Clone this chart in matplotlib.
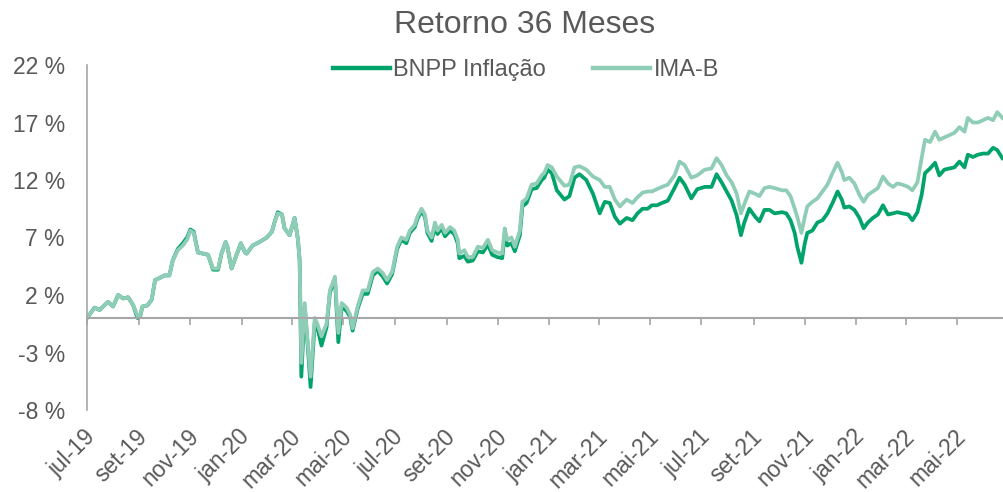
import matplotlib
matplotlib.use("Agg")
import matplotlib.pyplot as plt
import matplotlib.transforms as mtransforms
import pandas as pd

plt.rcParams['font.family'] = ['Liberation Sans', 'DejaVu Sans']

# values (cumulative return, %)
dates = [
    "2019-07-01", "2019-07-10", "2019-07-16", "2019-07-26", "2019-08-01", "2019-08-07",
    "2019-08-13", "2019-08-19", "2019-08-25", "2019-08-30", "2019-09-02", "2019-09-05",
    "2019-09-11", "2019-09-16", "2019-09-20", "2019-09-26", "2019-10-01", "2019-10-07",
    "2019-10-11", "2019-10-17", "2019-10-23", "2019-10-28", "2019-11-01", "2019-11-05",
    "2019-11-10", "2019-11-16", "2019-11-22", "2019-11-28", "2019-12-04", "2019-12-08",
    "2019-12-13", "2019-12-15", "2019-12-20", "2019-12-26", "2019-12-31", "2020-01-05",
    "2020-01-07", "2020-01-14", "2020-01-22", "2020-01-31", "2020-02-06", "2020-02-09",
    "2020-02-13", "2020-02-18", "2020-02-21", "2020-02-27", "2020-03-04", "2020-03-08",
    "2020-03-10", "2020-03-12", "2020-03-16", "2020-03-20", "2020-03-23", "2020-03-28",
    "2020-03-31", "2020-04-05", "2020-04-11", "2020-04-15", "2020-04-21", "2020-04-25",
    "2020-04-29", "2020-05-05", "2020-05-09", "2020-05-12", "2020-05-18", "2020-05-24",
    "2020-05-30", "2020-06-05", "2020-06-11", "2020-06-17", "2020-06-22", "2020-06-28",
    "2020-07-04", "2020-07-09", "2020-07-15", "2020-07-19", "2020-07-25", "2020-07-28",
    "2020-08-02", "2020-08-06", "2020-08-09", "2020-08-14", "2020-08-18", "2020-08-21",
    "2020-08-26", "2020-08-30", "2020-09-05", "2020-09-10", "2020-09-14", "2020-09-16",
    "2020-09-22", "2020-09-26", "2020-10-02", "2020-10-08", "2020-10-14", "2020-10-20",
    "2020-10-25", "2020-10-31", "2020-11-06", "2020-11-09", "2020-11-12", "2020-11-17",
    "2020-11-21", "2020-11-27", "2020-11-30", "2020-12-05", "2020-12-11", "2020-12-17",
    "2020-12-23", "2020-12-26", "2020-12-30", "2021-01-04", "2021-01-10", "2021-01-19",
    "2021-01-25", "2021-01-31", "2021-02-06", "2021-02-14", "2021-02-22", "2021-03-02",
    "2021-03-08", "2021-03-14", "2021-03-20", "2021-03-26", "2021-04-03", "2021-04-10",
    "2021-04-16", "2021-04-22", "2021-04-28", "2021-05-03", "2021-05-09", "2021-05-15",
    "2021-05-22", "2021-05-30", "2021-06-05", "2021-06-11", "2021-06-19", "2021-06-26",
    "2021-07-05", "2021-07-13", "2021-07-19", "2021-07-25", "2021-07-31", "2021-08-06",
    "2021-08-12", "2021-08-17", "2021-08-21", "2021-08-27", "2021-09-03", "2021-09-08",
    "2021-09-14", "2021-09-20", "2021-09-26", "2021-10-05", "2021-10-10", "2021-10-15",
    "2021-10-20", "2021-10-23", "2021-10-28", "2021-11-01", "2021-11-04", "2021-11-10",
    "2021-11-16", "2021-11-22", "2021-11-28", "2021-12-04", "2021-12-10", "2021-12-15",
    "2021-12-18", "2021-12-24", "2021-12-30", "2022-01-05", "2022-01-10", "2022-01-15",
    "2022-01-21", "2022-01-27", "2022-02-02", "2022-02-08", "2022-02-14", "2022-02-19",
    "2022-02-25", "2022-03-04", "2022-03-09", "2022-03-15", "2022-03-20", "2022-03-24",
    "2022-03-30", "2022-04-05", "2022-04-10", "2022-04-16", "2022-04-22", "2022-04-28",
    "2022-05-04", "2022-05-10", "2022-05-14", "2022-05-20", "2022-05-26", "2022-06-01",
    "2022-06-07", "2022-06-13", "2022-06-18", "2022-06-24",
]

ima_b = [
    0.0, 0.9, 0.7, 1.4, 1.0, 2.0, 1.7, 1.8, 1.1, 0.2, 0.2, 1.0,
    1.1, 1.6, 3.3, 3.5, 3.7, 3.7, 5.0, 5.9, 6.3, 6.8, 7.6, 7.4,
    5.7, 5.6, 5.5, 4.3, 4.3, 5.6, 6.6, 6.2, 4.3, 5.5, 6.5, 5.7,
    5.6, 6.3, 6.6, 7.0, 7.5, 8.3, 9.1, 9.0, 7.8, 7.2, 8.7, 6.8,
    5.0, -3.9, 1.3, -2.5, -5.1, 0.0, -0.5, -1.6, -0.5, 2.4, 3.6, -1.3,
    1.3, 0.9, 0.3, -0.9, 1.0, 2.4, 2.4, 4.0, 4.3, 3.9, 3.3, 4.0,
    6.2, 7.0, 6.8, 7.6, 8.1, 8.8, 9.5, 9.0, 7.6, 7.0, 8.3, 7.6,
    8.1, 7.4, 7.9, 7.6, 6.8, 5.6, 5.9, 5.3, 5.3, 6.2, 6.1, 6.8,
    5.9, 5.7, 5.6, 7.8, 6.8, 7.0, 6.2, 7.6, 10.1, 10.4, 11.6, 11.7,
    12.4, 12.6, 13.3, 13.1, 12.3, 11.5, 11.6, 13.1, 13.2, 12.9, 12.3, 12.0,
    11.4, 11.4, 10.3, 9.7, 10.3, 10.0, 10.5, 10.9, 11.0, 11.0, 11.2, 11.4,
    11.6, 12.4, 13.6, 13.3, 12.2, 12.4, 12.9, 13.0, 13.9, 13.3, 12.4, 11.8,
    10.8, 9.1, 9.9, 11.0, 10.8, 10.6, 11.3, 11.4, 11.3, 11.1, 11.1, 10.6,
    9.5, 8.8, 7.4, 8.8, 9.7, 10.1, 10.4, 11.0, 11.6, 12.6, 13.5, 12.7,
    12.0, 12.2, 11.7, 10.7, 10.1, 10.7, 11.0, 11.3, 12.3, 11.7, 11.4, 11.7,
    11.6, 11.4, 11.1, 11.8, 13.9, 15.5, 15.3, 16.2, 15.5, 15.7, 15.9, 16.1,
    16.6, 16.2, 17.4, 17.0, 17.0, 17.2, 17.4, 17.2, 17.9, 17.4,
]

bnpp = [
    0.0, 0.9, 0.7, 1.4, 1.0, 2.0, 1.7, 1.8, 1.1, 0.0, 0.1, 1.0,
    1.1, 1.6, 3.3, 3.5, 3.7, 3.7, 5.0, 6.0, 6.5, 7.0, 7.7, 7.5,
    5.7, 5.6, 5.5, 4.2, 4.2, 5.6, 6.6, 6.2, 4.3, 5.5, 6.5, 5.7,
    5.6, 6.3, 6.6, 7.0, 7.5, 8.3, 9.2, 9.0, 7.8, 7.2, 8.7, 6.8,
    5.0, -5.1, 1.0, -2.8, -6.0, -0.4, -0.8, -2.4, -0.8, 2.2, 3.4, -2.1,
    1.0, 0.6, 0.1, -1.1, 0.8, 2.1, 2.1, 3.7, 4.1, 3.6, 3.0, 3.8,
    6.0, 6.8, 6.5, 7.4, 7.9, 8.6, 9.3, 8.8, 7.4, 6.7, 8.0, 7.3,
    7.8, 7.1, 7.6, 7.3, 6.5, 5.2, 5.4, 4.9, 5.0, 5.8, 5.7, 6.4,
    5.5, 5.3, 5.2, 7.3, 6.3, 6.5, 5.8, 7.2, 9.7, 10.0, 11.2, 11.3,
    12.0, 12.2, 12.9, 12.6, 11.1, 10.3, 10.6, 12.2, 12.5, 12.0, 10.8, 9.1,
    10.1, 10.0, 8.8, 8.2, 8.7, 8.5, 9.1, 9.5, 9.5, 9.8, 9.8, 10.0,
    10.2, 11.3, 12.2, 11.6, 10.4, 11.2, 11.4, 11.4, 12.5, 11.8, 11.0, 10.2,
    8.9, 7.2, 8.3, 9.5, 8.8, 8.4, 9.4, 9.4, 9.1, 9.2, 9.1, 8.5,
    7.4, 6.2, 4.8, 6.5, 7.4, 7.6, 8.3, 8.5, 9.1, 10.0, 11.0, 10.3,
    9.6, 9.7, 9.4, 8.7, 7.8, 8.3, 8.7, 9.0, 9.8, 9.0, 9.1, 9.2,
    9.1, 9.0, 8.5, 9.2, 10.7, 12.6, 13.0, 13.5, 12.4, 12.9, 13.0, 13.1,
    13.6, 13.1, 14.2, 14.0, 14.2, 14.3, 14.3, 14.8, 14.6, 13.9,
]

tick_dates = ["2019-07-01", "2019-09-01", "2019-11-01", "2020-01-01", "2020-03-01",
              "2020-05-01", "2020-07-01", "2020-09-01", "2020-11-01", "2021-01-01",
              "2021-03-01", "2021-05-01", "2021-07-01", "2021-09-01", "2021-11-01",
              "2022-01-01", "2022-03-01", "2022-05-01"]
tick_labels = ["jul-19", "set-19", "nov-19", "jan-20", "mar-20", "mai-20", "jul-20",
               "set-20", "nov-20", "jan-21", "mar-21", "mai-21", "jul-21", "set-21",
               "nov-21", "jan-22", "mar-22", "mai-22"]
y_ticks = [-8, -3, 2, 7, 12, 17, 22]

x = pd.to_datetime(dates)
txt = '#595959'
grey = '#A6A6A6'

fig = plt.figure(figsize=(10.04, 4.92), dpi=100)
ax = fig.add_axes([87/1004, 82/492, 917/1004, 345/492])

ax.plot(x, bnpp, color='#00A36A', lw=2.7, label='BNPP Inflação', solid_joinstyle='round')
ax.plot(x, ima_b, color='#8FCDB7', lw=2.7, label='IMA-B', solid_joinstyle='round')

ax.set_ylim(-8, 22)
ax.set_xlim(pd.Timestamp("2019-07-01"), pd.Timestamp("2022-06-26"))
ax.set_yticks(y_ticks)
ax.set_yticklabels([f"{v} %" for v in y_ticks])
ax.set_xticks(pd.to_datetime(tick_dates))
ax.set_xticklabels(tick_labels)

for s in ['top', 'right']:
    ax.spines[s].set_visible(False)
ax.spines['left'].set_color(grey)
ax.spines['left'].set_linewidth(1.2)
ax.spines['bottom'].set_position(('data', 0))
ax.spines['bottom'].set_color(grey)
ax.spines['bottom'].set_linewidth(1.5)

ax.tick_params(axis='y', length=0, pad=16, labelsize=16.5, labelcolor=txt)
ax.tick_params(axis='x', length=5, width=1.2, color=grey, direction='out',
               pad=72, labelsize=16.5, labelcolor=txt)

# rotated month labels hanging below the chart
offset = mtransforms.ScaledTranslation(-3/100, 0, fig.dpi_scale_trans)
for lab in ax.get_xticklabels():
    lab.set_rotation(45)
    lab.set_ha('right')
    lab.set_va('top')
    lab.set_rotation_mode('anchor')
    lab.set_transform(lab.get_transform() + offset)

fig.text(525/1004, 1 - 25/492, 'Retorno 36 Meses', ha='center', va='center',
         fontsize=23, color=txt)
leg = fig.legend(loc='center', bbox_to_anchor=(526/1004, 1 - 70/492), ncol=2,
                 frameon=False, fontsize=17, handlelength=2.4, handletextpad=0.15,
                 columnspacing=2.0)
for t in leg.get_texts():
    t.set_color(txt)
for h in leg.get_lines():
    h.set_linewidth(3.2)

fig.savefig('out.png', dpi=100)
